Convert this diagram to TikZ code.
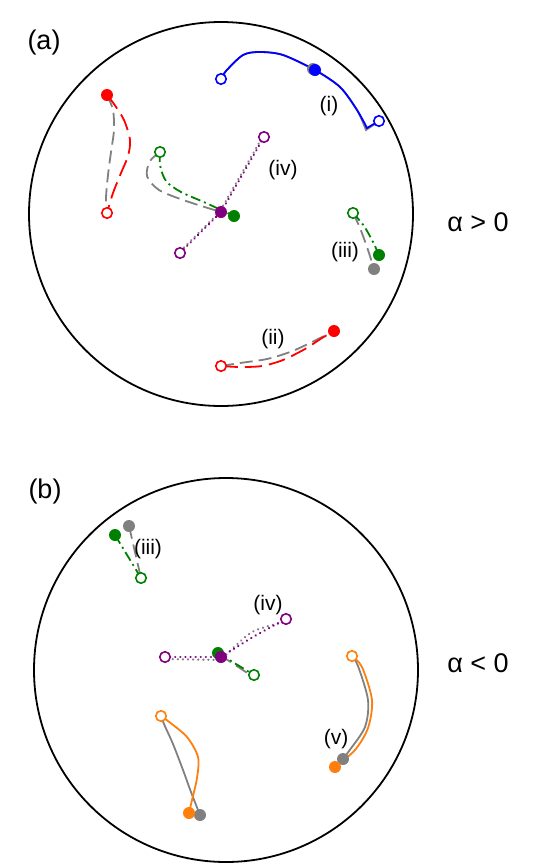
\documentclass[tikz,border=0pt]{standalone}
\usepackage{fontspec}
\setmainfont{Liberation Sans}
\begin{document}
\begin{tikzpicture}[x=1pt,y=-1pt,
 filled/.style={circle,fill=#1,inner sep=0pt,minimum size=12pt},
 hollow/.style={circle,draw=#1,fill=white,line width=1.6pt,inner sep=0pt,minimum size=10.5pt},
 traj/.style={line width=1.8pt,draw=#1},
 lbl/.style={font=\fontsize{21}{25}\selectfont,inner sep=0pt},
 big/.style={font=\fontsize{27}{32}\selectfont,inner sep=0pt},
 rdash/.style={dash pattern=on 17pt off 7pt},
 gdash/.style={dash pattern=on 13pt off 6pt},
 dashdot/.style={dash pattern=on 10pt off 4pt on 2pt off 4pt},
 dotline/.style={dash pattern=on 0.1pt off 5pt,line cap=round,line width=2.4pt},
 rim/.style={draw=black,line width=1.8pt}
]
\definecolor{tgray}{RGB}{128,128,128}
\definecolor{tgreen}{RGB}{0,128,0}
\definecolor{tpurple}{RGB}{128,0,128}
\definecolor{torange}{RGB}{255,127,14}
\useasboundingbox (0,0) rectangle (540,868);

% rims
\draw[rim] (221,214) circle[radius=192pt];
\draw[rim] (226,670) circle[radius=192pt];

% panel labels
\node[big] (la) at (44,43) {(a)};
\node[big] (lb) at (45,492) {(b)};
\node[big] (alp) at (478,222) {α > 0};
\node[big] (alm) at (478,663) {α < 0};

% ---------- coordinates (a) ----------
\coordinate (iA) at (221,79);
\coordinate (iF) at (315,70);
\coordinate (iG) at (313,69);
\coordinate (iB) at (379,121);
\coordinate (rF) at (107,95);
\coordinate (rO) at (107,213);
\coordinate (gO) at (160,152);
\coordinate (gF) at (234,216);
\coordinate (pF) at (221,212);
\coordinate (pU) at (264,137);
\coordinate (pL) at (180,253);
\coordinate (oO) at (353,213);
\coordinate (oF) at (379,255);
\coordinate (oG) at (374,269);
\coordinate (iiO) at (221,366);
\coordinate (iiF) at (334,331);

% (i)
\draw[traj=tgray] plot[smooth] coordinates {(iA) (226,71) (243,55) (260,52) (283,55) (iG)};
\draw[traj=tgray] plot[smooth] coordinates {(iF) (340,87) (357,110) (366,130)} -- (iB);
\draw[traj=blue] plot[smooth] coordinates {(iA) (226,71) (243,55) (260,52) (283,55) (iF) (340,87) (357,110) (367,128)} -- (iB);
% red left
\draw[traj=tgray,gdash] plot[smooth] coordinates {(rF) (113,110) (114,130) (111,152) (108,175) (106,198) (rO)};
\draw[traj=red,rdash] plot[smooth] coordinates {(rF) (114,104) (124,120) (130,140) (128,156) (121,173) (113,193) (rO)};
% green centre
\draw[traj=tgray,gdash] plot[smooth] coordinates {(gO) (150,161) (147,176) (159,190) (186,201) (pF)};
\draw[traj=tgreen,dashdot] plot[smooth] coordinates {(gO) (160,165) (166,181) (181,192) (206,203) (gF)};
% purple (iv)
\draw[traj=tgray,dotline,dash phase=2.5pt] ([xshift=-1.5pt]pU) -- ([xshift=-1.5pt]pF);
\draw[traj=tgray,dotline,dash phase=2.5pt] ([xshift=-1.5pt]pL) -- ([xshift=-1.5pt]pF);
\draw[traj=tpurple,dotline] (pU) -- (pF);
\draw[traj=tpurple,dotline] (pL) -- (pF);
% (iii) a
\draw[traj=tgray,gdash] plot[smooth] coordinates {(oO) (360,228) (368,250) (oG)};
\draw[traj=tgreen,dashdot] plot[smooth] coordinates {(oO) (364,226) (373,242) (oF)};
% (ii)
\draw[traj=tgray,gdash] plot[smooth] coordinates {(iiO) (240,363) (267,359) (290,352) (310,343) (iiF)};
\draw[traj=red,rdash] plot[smooth] coordinates {(iiO) (240,367) (262,366) (283,360) (305,349) (322,338) (iiF)};

% markers (a)
\node[filled=tgray] (iGd) at (iG) {};
\node[filled=blue] (iFd) at (iF) {};
\node[hollow=blue] (iAd) at (iA) {};
\node[hollow=blue] (iBd) at (iB) {};
\node[filled=red] (rFd) at (rF) {};
\node[hollow=red] (rOd) at (rO) {};
\node[filled=tgreen] (gFd) at (gF) {};
\node[filled=tpurple] (pFd) at (pF) {};
\node[hollow=tgreen] (gOd) at (gO) {};
\node[hollow=tpurple] (pUd) at (pU) {};
\node[hollow=tpurple] (pLd) at (pL) {};
\node[filled=tgray] (oGd) at (oG) {};
\node[filled=tgreen] (oFd) at (oF) {};
\node[hollow=tgreen] (oOd) at (oO) {};
\node[filled=red] (iiFd) at (iiF) {};
\node[hollow=red] (iiOd) at (iiO) {};

% labels (a)
\node[lbl] (ti) at (329,106) {(i)};
\node[lbl] (tii) at (273,339) {(ii)};
\node[lbl] (tiii) at (345,252) {(iii)};
\node[lbl] (tiv) at (283,170) {(iv)};

% ---------- coordinates (b) ----------
\coordinate (bgG) at (129,526);
\coordinate (bgF) at (115,535);
\coordinate (bgO) at (141,578);
\coordinate (bpL) at (165,657);
\coordinate (bpR) at (286,619);
\coordinate (bpF) at (221,657);
\coordinate (bgF2) at (218,653);
\coordinate (bgO2) at (254,675);
\coordinate (vO) at (352,656);
\coordinate (vF) at (335,767);
\coordinate (vG) at (343,759);
\coordinate (lO) at (161,716);
\coordinate (lF) at (189,813);
\coordinate (lG) at (200,815);

% (iii) b
\draw[traj=tgray,gdash] (bgG) -- (bgO);
\draw[traj=tgreen,dashdot] (bgF) -- (bgO);
% (iv) b
\draw[traj=tgray,dotline,dash phase=2.5pt] ([yshift=-2pt]bpL) -- ([yshift=-3pt]bpF);
\draw[traj=tgray,dotline,dash phase=2.5pt] plot[smooth] coordinates {([yshift=-3pt]bpF) (252,632) ([yshift=-3pt]bpR)};
\draw[traj=tpurple,dotline] (bpL) -- (bpF);
\draw[traj=tpurple,dotline] plot[smooth] coordinates {(bpF) (253,637) (bpR)};
\draw[traj=tgray,gdash] ([shift={(2pt,-2pt)}]bgF2) -- ([shift={(1pt,-3pt)}]bgO2);
\draw[traj=tgreen,dashdot] (bgF2) -- (bgO2);
% (v)
\draw[traj=tgray] plot[smooth] coordinates {(vO) (358,666) (368,700) (365,727) (349,751) (vG)};
\draw[traj=torange] plot[smooth] coordinates {(vO) (362,667) (372,700) (368,728) (355,750) (vF)};
% lower-left orange
\draw[traj=tgray] plot[smooth] coordinates {(lO) (164,724) (173,744) (183,770) (191,792) (lG)};
\draw[traj=torange] plot[smooth] coordinates {(lO) (168,721) (187,737) (198,757) (197,778) (192,800) (lF)};

% markers (b)
\node[filled=tgray] (bgGd) at (bgG) {};
\node[filled=tgreen] (bgFd) at (bgF) {};
\node[hollow=tgreen] (bgOd) at (bgO) {};
\node[filled=tgreen] (bgF2d) at (bgF2) {};
\node[filled=tpurple] (bpFd) at (bpF) {};
\node[hollow=tpurple] (bpLd) at (bpL) {};
\node[hollow=tpurple] (bpRd) at (bpR) {};
\node[hollow=tgreen] (bgO2d) at (bgO2) {};
\node[filled=tgray] (vGd) at (vG) {};
\node[filled=torange] (vFd) at (vF) {};
\node[hollow=torange] (vOd) at (vO) {};
\node[filled=tgray] (lGd) at (lG) {};
\node[filled=torange] (lFd) at (lF) {};
\node[hollow=torange] (lOd) at (lO) {};

% labels (b)
\node[lbl] (btiii) at (148,549) {(iii)};
\node[lbl] (btiv) at (268,605) {(iv)};
\node[lbl] (btv) at (336,739) {(v)};
\end{tikzpicture}
\end{document}
